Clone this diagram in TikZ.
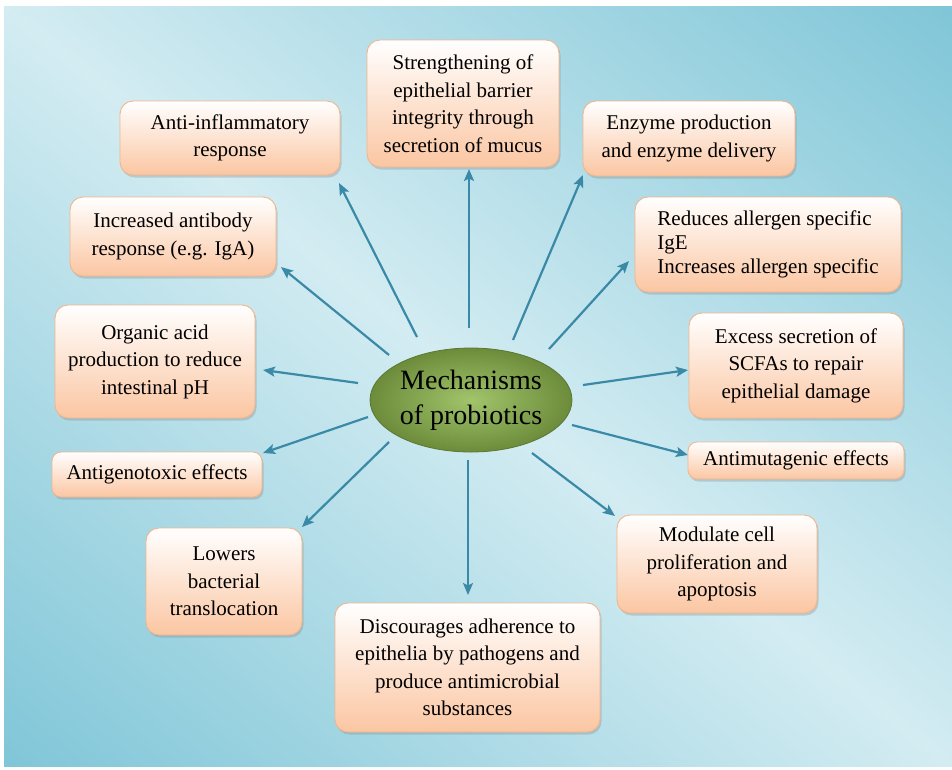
\documentclass[tikz,border=0pt]{standalone}
\usepackage{fontspec}
\setmainfont{Liberation Serif}
\usetikzlibrary{shapes.geometric,arrows.meta,shadows}
\definecolor{bgdark}{HTML}{7EC5D7}
\definecolor{bglight}{HTML}{D3ECF2}
\definecolor{arrowc}{HTML}{3A8AA7}
\definecolor{boxline}{HTML}{F2B58C}
\definecolor{boxbot}{HTML}{FBC6A2}
\definecolor{elin}{HTML}{A2C46B}
\definecolor{elout}{HTML}{6C8C3B}
\definecolor{elline}{HTML}{5B7832}
\begin{document}
\begin{tikzpicture}[x=1pt,y=-1pt,
  box/.style={draw=boxline, line width=0.9pt, rounded corners=13pt,
    top color=white, bottom color=boxbot, inner sep=0pt, align=center,
    font=\fontsize{21}{27.5}\selectfont,
    drop shadow={shadow xshift=1.5pt, shadow yshift=-2.5pt, opacity=0.3}},
  smallbox/.style={box, rounded corners=9pt},
  conn/.style={draw=arrowc, line width=2.2pt, -{Stealth[length=12pt,width=10pt,inset=2.5pt]}},
]
\useasboundingbox (0,0) rectangle (952,769);
\fill[white] (0,0) rectangle (952,769);
\begin{scope}
  \clip (4,6) rectangle (952,766);
  \begin{scope}[transform canvas={rotate around={-38.7:(478,386)}}]
    \shade[top color=bgdark, bottom color=bglight] (-300,-220) rectangle (1260,386);
    \shade[top color=bglight, bottom color=bgdark] (-300,386) rectangle (1260,992);
  \end{scope}
\end{scope}

% arrow end points
\coordinate (s1) at (469,328);  \coordinate (t1) at (469,169);
\coordinate (s2) at (417,337);  \coordinate (t2) at (339,183);
\coordinate (s3) at (513,340);  \coordinate (t3) at (583,175);
\coordinate (s4) at (389,355);  \coordinate (t4) at (281,267);
\coordinate (s5) at (549,349);  \coordinate (t5) at (629,261);
\coordinate (s6) at (358,383);  \coordinate (t6) at (263,370);
\coordinate (s7) at (583,385);  \coordinate (t7) at (688,370);
\coordinate (s8) at (368,417);  \coordinate (t8) at (263,453);
\coordinate (s9) at (572,425);  \coordinate (t9) at (688,455);
\coordinate (s10) at (389,442); \coordinate (t10) at (302,527);
\coordinate (s11) at (532,453); \coordinate (t11) at (615,516);
\coordinate (s12) at (468,460); \coordinate (t12) at (468,595);

\foreach \i in {1,...,12} { \draw[conn] (s\i) -- (t\i); }

\node[ellipse, draw=elline, line width=0.8pt, inner color=elin, outer color=elout,
  minimum width=202pt, minimum height=104pt, inner sep=0pt, align=center,
  font=\fontsize{28}{35}\selectfont] (center) at (471,400) {Mechanisms\\of probiotics};

\node[box, minimum width=192pt, minimum height=127pt] (strength) at (463,103.5)
  {Strengthening of\\epithelial barrier\\integrity through\\secretion of mucus};
\node[box, minimum width=220pt, minimum height=74pt] (antiinf) at (230,138)
  {Anti-inflammatory\\response};
\node[box, minimum width=212pt, minimum height=75pt] (enzyme) at (689,138.5)
  {Enzyme production\\and enzyme delivery};
\node[box, minimum width=206pt, minimum height=79pt] (antibody) at (173,236.5)
  {Increased antibody\\response (e.g. IgA)};
\node[box, minimum width=266pt, minimum height=95pt, align=left,
  font=\fontsize{21}{24}\selectfont] (allergen) at (768,244.5)
  {Reduces allergen specific\\IgE\\Increases allergen specific};
\node[box, minimum width=200pt, minimum height=113pt] (organic) at (155,361.5)
  {Organic acid\\production to reduce\\intestinal pH};
\node[box, minimum width=214pt, minimum height=105pt] (excess) at (796,365.5)
  {Excess secretion of\\SCFAs to repair\\epithelial damage};
\node[smallbox, minimum width=210pt, minimum height=45pt] (antigeno) at (157,474.5)
  {Antigenotoxic effects};
\node[smallbox, minimum width=216pt, minimum height=37pt] (antimut) at (796,460.5)
  {Antimutagenic effects};
\node[box, minimum width=156pt, minimum height=107pt] (lowers) at (224,581.5)
  {Lowers\\bacterial\\translocation};
\node[box, minimum width=200pt, minimum height=98pt] (modulate) at (717,564)
  {Modulate cell\\proliferation and\\apoptosis};
\node[box, minimum width=265pt, minimum height=129pt] (discourage) at (467.5,667.5)
  {Discourages adherence to\\epithelia by pathogens and\\produce antimicrobial\\substances};
\end{tikzpicture}
\end{document}
